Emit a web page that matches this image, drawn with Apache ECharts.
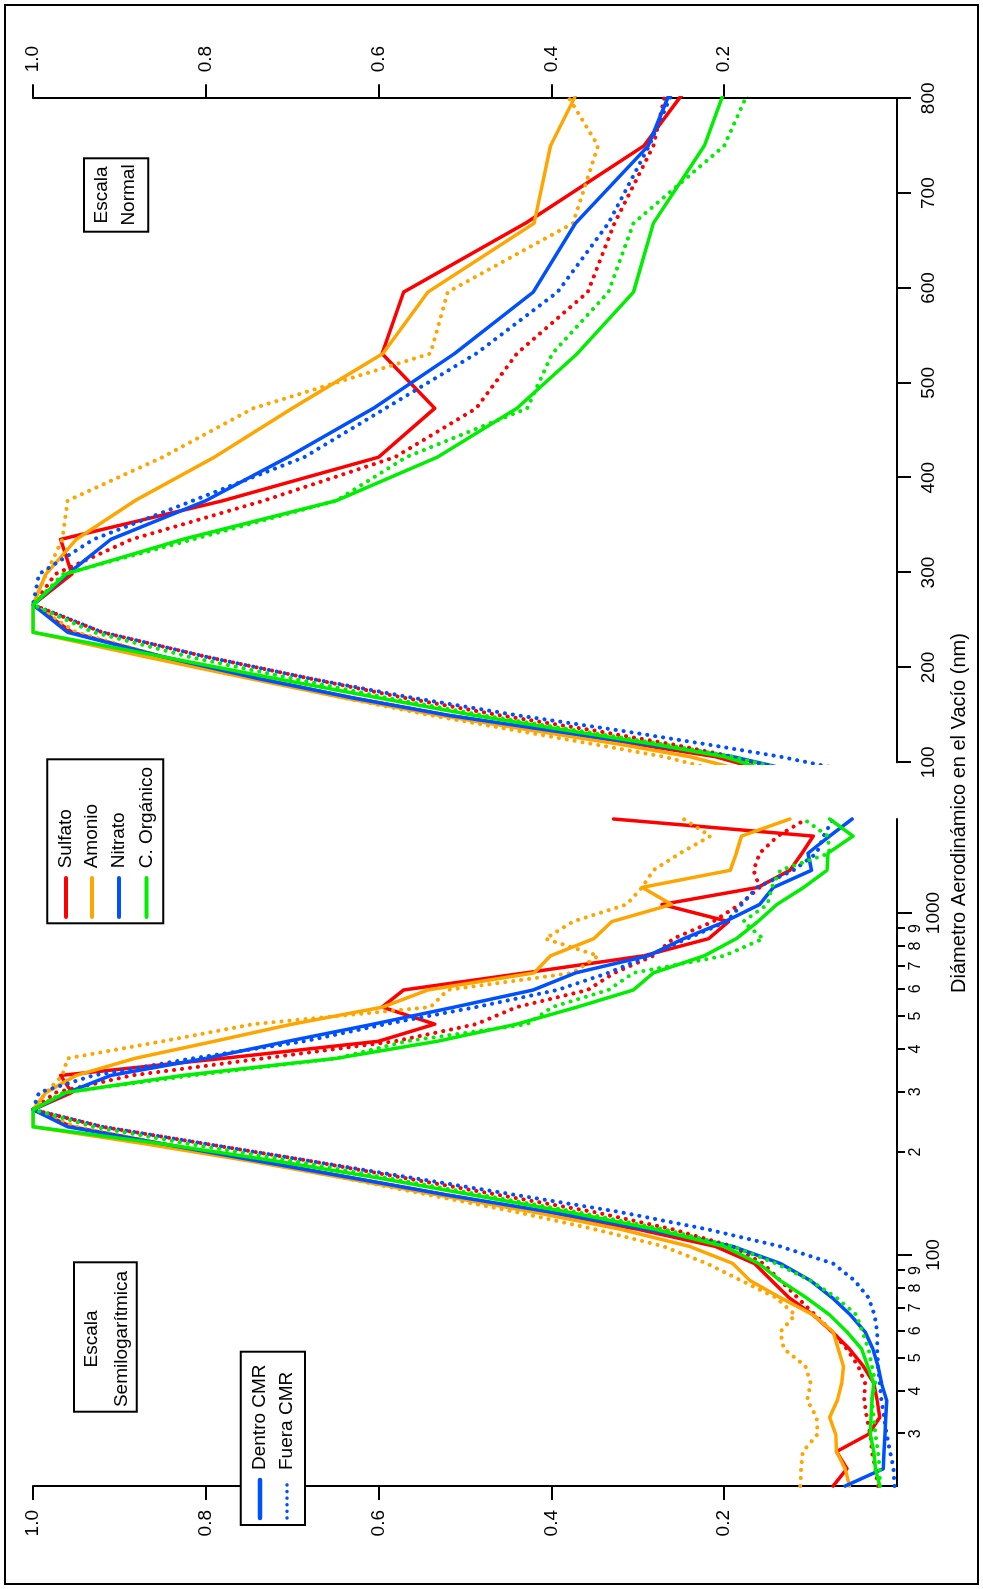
<!DOCTYPE html>
<html>
<head>
<meta charset="utf-8">
<script src="https://cdn.jsdelivr.net/npm/echarts@6/dist/echarts.min.js"></script>
<style>
html, body { margin: 0; padding: 0; background: #fff; overflow: hidden; }
#wrap { width: 983px; height: 1589px; position: relative; overflow: hidden; }
/* la figura original va girada: se dibuja apaisada y se rota -90 grados */
#chart { position: absolute; left: 0; top: 0; width: 1589px; height: 983px;
         transform-origin: 0 0; transform: translate(0, 1589px) rotate(-90deg); }
</style>
</head>
<body>
<div id="wrap"><div id="chart"></div></div>
<script>
var FONT = 'Liberation Sans, Arial, sans-serif';

// diametro aerodinamico en el vacio (nm), centros de los canales
var diametros = [21.1, 23.7, 26.6, 29.9, 33.5, 37.6, 42.2, 47.3, 53.1, 59.6,
    66.8, 75.0, 84.1, 94.4, 105.9, 118.9, 133.4, 149.6, 167.9, 188.4,
    211.3, 237.1, 266.1, 298.5, 335.0, 375.8, 421.7, 473.2, 530.9, 595.7,
    668.3, 749.9, 841.4, 944.1, 1059.3, 1188.5, 1333.5, 1496.2, 1678.8, 1883.6];

var sulfatoDentro = [0.074, 0.058, 0.070, 0.033, 0.020, 0.023, 0.027, 0.039, 0.055, 0.075,
    0.097, 0.125, 0.145, 0.165, 0.21, 0.30, 0.41, 0.52, 0.63, 0.74,
    0.85, 0.955, 1.0, 0.955, 0.968, 0.78, 0.60, 0.535, 0.596, 0.571,
    0.43, 0.293, 0.218, 0.195, 0.272, 0.161, 0.124, 0.110, 0.097, 0.328];
var sulfatoFuera = [0.022, 0.025, 0.029, 0.031, 0.035, 0.038, 0.037, 0.045, 0.058, 0.075,
    0.095, 0.115, 0.135, 0.155, 0.19, 0.26, 0.35, 0.46, 0.57, 0.68,
    0.80, 0.92, 1.0, 0.974, 0.886, 0.733, 0.581, 0.487, 0.44, 0.358,
    0.327, 0.282, 0.259, 0.213, 0.182, 0.159, 0.166, 0.159, 0.138, 0.105];
var amonioDentro = [0.055, 0.060, 0.070, 0.071, 0.078, 0.069, 0.064, 0.062, 0.068, 0.074,
    0.097, 0.135, 0.17, 0.19, 0.24, 0.32, 0.42, 0.53, 0.64, 0.75,
    0.87, 1.0, 1.0, 0.985, 0.95, 0.882, 0.79, 0.70, 0.595, 0.543,
    0.420, 0.401, 0.351, 0.330, 0.261, 0.295, 0.193, 0.186, 0.180, 0.124];
var amonioFuera = [0.112, 0.111, 0.109, 0.092, 0.093, 0.104, 0.100, 0.106, 0.131, 0.135,
    0.118, 0.14, 0.18, 0.22, 0.27, 0.35, 0.44, 0.54, 0.64, 0.74,
    0.85, 0.95, 1.0, 0.985, 0.966, 0.96, 0.85, 0.745, 0.54, 0.52,
    0.375, 0.346, 0.407, 0.375, 0.313, 0.295, 0.282, 0.251, 0.216, 0.247];
var nitratoDentro = [0.06, 0.016, 0.015, 0.014, 0.013, 0.012, 0.018, 0.022, 0.028, 0.037,
    0.054, 0.075, 0.10, 0.135, 0.19, 0.29, 0.40, 0.52, 0.63, 0.74,
    0.85, 0.96, 1.0, 0.96, 0.91, 0.80, 0.705, 0.606, 0.512, 0.421,
    0.372, 0.288, 0.247, 0.199, 0.159, 0.143, 0.099, 0.103, 0.078, 0.052];
var nitratoFuera = [0.003, 0.004, 0.008, 0.012, 0.015, 0.018, 0.020, 0.022, 0.023, 0.023,
    0.026, 0.033, 0.049, 0.074, 0.135, 0.22, 0.32, 0.44, 0.56, 0.68,
    0.80, 0.92, 1.0, 0.993, 0.93, 0.815, 0.686, 0.592, 0.487, 0.393,
    0.334, 0.287, 0.243, 0.197, 0.18, 0.162, 0.12, 0.093, 0.085, 0.074];
var organicoDentro = [0.020, 0.025, 0.027, 0.031, 0.030, 0.029, 0.027, 0.034, 0.041, 0.058,
    0.078, 0.105, 0.135, 0.16, 0.20, 0.28, 0.38, 0.49, 0.60, 0.72,
    0.85, 1.0, 1.0, 0.962, 0.827, 0.649, 0.532, 0.44, 0.37, 0.305,
    0.282, 0.223, 0.186, 0.161, 0.139, 0.108, 0.081, 0.080, 0.051, 0.078];
var organicoFuera = [0.020, 0.020, 0.022, 0.025, 0.027, 0.029, 0.025, 0.029, 0.033, 0.040,
    0.047, 0.07, 0.10, 0.14, 0.19, 0.27, 0.37, 0.48, 0.59, 0.70,
    0.82, 0.93, 1.0, 0.965, 0.815, 0.649, 0.568, 0.428, 0.399, 0.334,
    0.305, 0.20, 0.155, 0.178, 0.15, 0.145, 0.135, 0.078, 0.080, 0.108];

var ticksMenores = [30, 40, 50, 60, 70, 80, 90, 200, 300, 400, 500, 600, 700, 800, 900];
var ticksMayores = [100, 1000];
var ticksValor = [0.2, 0.4, 0.6, 0.8, 1.0];
var rangoLineal = [100, 800];

var especies = [
    {nombre: 'Sulfato', color: '#FF0000', dentro: sulfatoDentro, fuera: sulfatoFuera},
    {nombre: 'Amonio', color: '#FFA500', dentro: amonioDentro, fuera: amonioFuera},
    {nombre: 'Nitrato', color: '#0050FF', dentro: nitratoDentro, fuera: nitratoFuera},
    {nombre: 'C. Orgánico', color: '#00EE00', dentro: organicoDentro, fuera: organicoFuera}
];

var PUNTOS = [0.1, 7.9];

function log10List(list) {
    return list.map(function (d) { return Math.log10(d); });
}

function lineSeries(nombre, valores, color, punteado, panel) {
    var data = [];
    for (var i = 0; i < valores.length; i++) {
        var x = panel === 0 ? Math.log10(diametros[i]) : diametros[i];
        data.push([x, valores[i]]);
    }
    return {
        name: nombre,
        type: 'line',
        xAxisIndex: panel === 0 ? 0 : 2,
        yAxisIndex: panel,
        data: data,
        showSymbol: false,
        symbol: 'none',
        clip: true,
        silent: true,
        lineStyle: {
            color: color,
            width: punteado ? 4 : 3.5,
            type: punteado ? PUNTOS : 'solid',
            cap: 'round',
            join: 'round'
        }
    };
}

var series = [];
[0, 1].forEach(function (panel) {
    especies.forEach(function (e) {
        series.push(lineSeries(e.nombre + ' fuera', e.fuera, e.color, true, panel));
        series.push(lineSeries(e.nombre + ' dentro', e.dentro, e.color, false, panel));
    });
});

var ejeNegro = {show: true, onZero: false, lineStyle: {color: '#000', width: 2}};

function valueAxis(grid, pos, margen) {
    return {
        gridIndex: grid, type: 'value', position: pos, min: 0, max: 1,
        axisLine: ejeNegro,
        axisTick: {customValues: ticksValor, length: 14, lineStyle: {color: '#000', width: 2}},
        axisLabel: {customValues: ticksValor, fontSize: 19, margin: margen, color: '#000', fontFamily: FONT,
            formatter: function (v) { return v.toFixed(1); }},
        splitLine: {show: false}
    };
}

function caja(x, y, w, h) {
    return {type: 'rect', z: 100, shape: {x: x, y: y, width: w, height: h},
        style: {fill: '#fff', stroke: '#000', lineWidth: 2}};
}
function texto(t, x, y, align, size) {
    return {type: 'text', z: 101, x: x, y: y,
        style: {text: t, font: (size || 19) + 'px ' + FONT, fill: '#000', align: align || 'left', verticalAlign: 'middle'}};
}
function raya(x1, x2, y, color, punteado, ancho) {
    return {type: 'line', z: 101, shape: {x1: x1, y1: y, x2: x2, y2: y},
        style: {stroke: color, lineWidth: ancho, lineCap: 'round', lineDash: punteado ? [0.1, 6.5] : null}};
}

var graphic = [
    {type: 'rect', z: 100, shape: {x: 5, y: 5, width: 1579, height: 973},
        style: {fill: 'none', stroke: '#000', lineWidth: 2}},
    // leyenda de especies
    caja(665.7, 47.3, 164, 116),
    // leyenda dentro / fuera
    caja(64, 240.7, 173.3, 64.3),
    raya(71, 109, 260, '#0050FF', false, 4.5),
    raya(71, 109, 287, '#0050FF', true, 3.5),
    texto('Dentro CMR', 119, 260),
    texto('Fuera CMR', 119, 287),
    // rotulos de escala
    caja(177.3, 74, 149.4, 62.7),
    texto('Escala', 250, 91.7, 'center'),
    texto('Semilogarítmica', 250, 121.7, 'center'),
    caja(1357.3, 84, 73.4, 64.3),
    texto('Escala', 1394, 101.7, 'center'),
    texto('Normal', 1394, 128.3, 'center'),
    // titulo del eje
    texto('Diámetro Aerodinámico en el Vacío (nm)', 776, 959, 'center', 20)
];
var filas = [66, 92, 119, 146.5];
especies.forEach(function (e, i) {
    graphic.push(raya(672, 711, filas[i], e.color, false, 4));
    graphic.push(texto(e.nombre, 720.7, filas[i]));
});

var chart = echarts.init(document.getElementById('chart'), null, {renderer: 'canvas'});
chart.setOption({
    backgroundColor: '#fff',
    animation: false,
    grid: [
        {left: 103, top: 33, width: 667, height: 864},
        {left: 826.7, top: 33, width: 664, height: 864}
    ],
    xAxis: [
        {   // escala logaritmica, marcas menores
            gridIndex: 0, type: 'value', position: 'bottom',
            min: Math.log10(diametros[0]), max: Math.log10(diametros[diametros.length - 1]),
            axisLine: ejeNegro,
            axisTick: {customValues: log10List(ticksMenores), length: 8, lineStyle: {color: '#000', width: 2}},
            axisLabel: {customValues: log10List(ticksMenores), fontSize: 16, margin: 11, color: '#000', fontFamily: FONT,
                formatter: function (v) { return String(Math.round(Math.pow(10, v))).charAt(0); }},
            splitLine: {show: false}
        },
        {   // escala logaritmica, marcas mayores
            gridIndex: 0, type: 'value', position: 'bottom',
            min: Math.log10(diametros[0]), max: Math.log10(diametros[diametros.length - 1]),
            axisLine: {show: false},
            axisTick: {customValues: log10List(ticksMayores), length: 15, lineStyle: {color: '#000', width: 2}},
            axisLabel: {customValues: log10List(ticksMayores), fontSize: 19, margin: 27, color: '#000', fontFamily: FONT,
                formatter: function (v) { return String(Math.round(Math.pow(10, v))); }},
            splitLine: {show: false}
        },
        {   // escala normal
            gridIndex: 1, type: 'value', position: 'bottom',
            min: rangoLineal[0], max: rangoLineal[1], interval: 100,
            axisLine: ejeNegro,
            axisTick: {length: 14, lineStyle: {color: '#000', width: 2}},
            axisLabel: {fontSize: 19, margin: 22, color: '#000', fontFamily: FONT},
            splitLine: {show: false}
        }
    ],
    yAxis: [
        valueAxis(0, 'left', 24),
        valueAxis(1, 'right', 26)
    ],
    series: series,
    graphic: graphic
});
</script>
</body>
</html>
